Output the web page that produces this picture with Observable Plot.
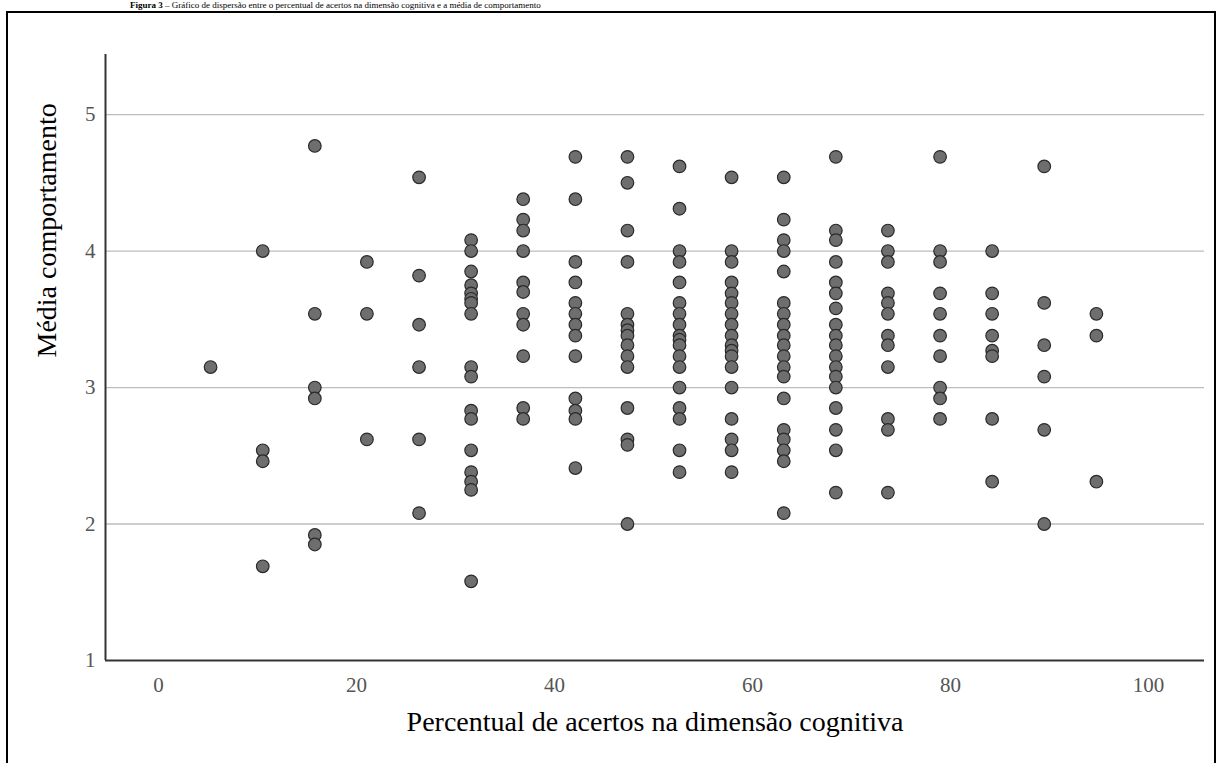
<!DOCTYPE html>
<html>
<head>
<meta charset="utf-8">
<script src="https://cdn.jsdelivr.net/npm/d3@7"></script>
<script src="https://cdn.jsdelivr.net/npm/@observablehq/plot@0.6"></script>
<style>
  html, body { margin: 0; padding: 0; background: #fff; overflow: hidden; }
  #wrap { position: relative; width: 1219px; height: 763px; overflow: hidden; }
  #frame { position: absolute; left: 6px; top: 11px; width: 1206px; height: 900px; border: 2px solid #000; }
  #caption { position: absolute; left: 130px; top: 0px; font-family: "Liberation Serif", serif; font-size: 9px; line-height: 10px; white-space: nowrap; color: #000; }
  #chart { position: absolute; left: 0; top: 0; }
</style>
</head>
<body>
<div id="wrap">
  <div id="caption"><b>Figura 3</b> – Gráfico de dispersão entre o percentual de acertos na dimensão cognitiva e a média de comportamento</div>
  <div id="frame"></div>
  <div id="chart"></div>
</div>
<script>
// Percentual de acertos (x) for each column of points
const acertos = [5.26, 10.53, 15.79, 21.05, 26.32, 31.58, 36.84, 42.11, 47.37, 52.63, 57.89, 63.16, 68.42, 73.68, 78.95, 84.21, 89.47, 94.74];
// Média comportamento (y) values read for each column
const mediaPorColuna = [
  [3.15],
  [4.00, 2.54, 2.46, 1.69],
  [4.77, 3.54, 3.00, 2.92, 1.92, 1.85],
  [3.92, 3.54, 2.62],
  [4.54, 3.82, 3.46, 3.15, 2.62, 2.08],
  [4.08, 4.00, 3.85, 3.75, 3.69, 3.65, 3.62, 3.54, 3.15, 3.08, 2.83, 2.77, 2.54, 2.38, 2.31, 2.25, 1.58],
  [4.38, 4.23, 4.15, 4.00, 3.77, 3.70, 3.54, 3.46, 3.23, 2.85, 2.77],
  [4.69, 4.38, 3.92, 3.77, 3.62, 3.54, 3.46, 3.38, 3.23, 2.92, 2.83, 2.77, 2.41],
  [4.69, 4.50, 4.15, 3.92, 3.54, 3.46, 3.42, 3.38, 3.31, 3.23, 3.15, 2.85, 2.62, 2.58, 2.00],
  [4.62, 4.31, 4.00, 3.92, 3.77, 3.62, 3.54, 3.46, 3.38, 3.35, 3.31, 3.23, 3.15, 3.00, 2.85, 2.77, 2.54, 2.38],
  [4.54, 4.00, 3.92, 3.77, 3.69, 3.62, 3.54, 3.46, 3.38, 3.31, 3.27, 3.23, 3.15, 3.00, 2.77, 2.62, 2.54, 2.38],
  [4.54, 4.23, 4.08, 4.00, 3.85, 3.62, 3.54, 3.46, 3.38, 3.31, 3.23, 3.15, 3.08, 2.92, 2.69, 2.62, 2.54, 2.46, 2.08],
  [4.69, 4.15, 4.08, 3.92, 3.77, 3.69, 3.58, 3.46, 3.38, 3.31, 3.23, 3.15, 3.08, 3.00, 2.85, 2.69, 2.54, 2.23],
  [4.15, 4.00, 3.92, 3.69, 3.62, 3.54, 3.38, 3.31, 3.15, 2.77, 2.69, 2.23],
  [4.69, 4.00, 3.92, 3.69, 3.54, 3.38, 3.23, 3.00, 2.92, 2.77],
  [4.00, 3.69, 3.54, 3.38, 3.27, 3.23, 2.77, 2.31],
  [4.62, 3.62, 3.31, 3.08, 2.69, 2.00],
  [3.54, 3.38, 2.31]
];
const xTicks = [0, 20, 40, 60, 80, 100];
const yTicks = [1, 2, 3, 4, 5];
const gridValues = [2, 3, 4, 5];
const xDomain = [-5.354, 105.66];
const yDomain = [1, 5.44];
const xLabel = "Percentual de acertos na dimensão cognitiva";
const yLabel = "Média comportamento";

const points = acertos.flatMap((x, i) => mediaPorColuna[i].map(y => ({x, y})));

const chart = Plot.plot({
  width: 1219,
  height: 763,
  marginLeft: 105,
  marginRight: 15,
  marginTop: 54,
  marginBottom: 103,
  x: {domain: xDomain},
  y: {domain: yDomain},
  style: {fontFamily: "'Liberation Serif', serif", background: "transparent", overflow: "visible"},
  marks: [
    Plot.ruleY(gridValues, {stroke: "#bdbdbd", strokeWidth: 1.3}),
    Plot.ruleX([xDomain[0]], {stroke: "#333", strokeWidth: 2}),
    Plot.ruleY([yDomain[0]], {stroke: "#333", strokeWidth: 2}),
    Plot.axisX(xTicks, {tickSize: 0, tickPadding: 17, fontSize: 21, color: "#555", label: null, tickFormat: d => String(d)}),
    Plot.axisY(yTicks, {tickSize: 0, tickPadding: 10, fontSize: 21, color: "#555", label: null, tickFormat: d => String(d)}),
    Plot.dot(points, {x: "x", y: "y", r: 6.3, fill: "#6e6e6e", stroke: "#2a2a2a", strokeWidth: 1.2}),
    Plot.text([xLabel], {frameAnchor: "bottom", dy: 70, fontSize: 28, fill: "#000", text: d => d}),
    Plot.text([yLabel], {frameAnchor: "left", dx: -58, rotate: -90, fontSize: 28, fill: "#000", text: d => d})
  ]
});
document.getElementById("chart").appendChild(chart);
</script>
</body>
</html>
